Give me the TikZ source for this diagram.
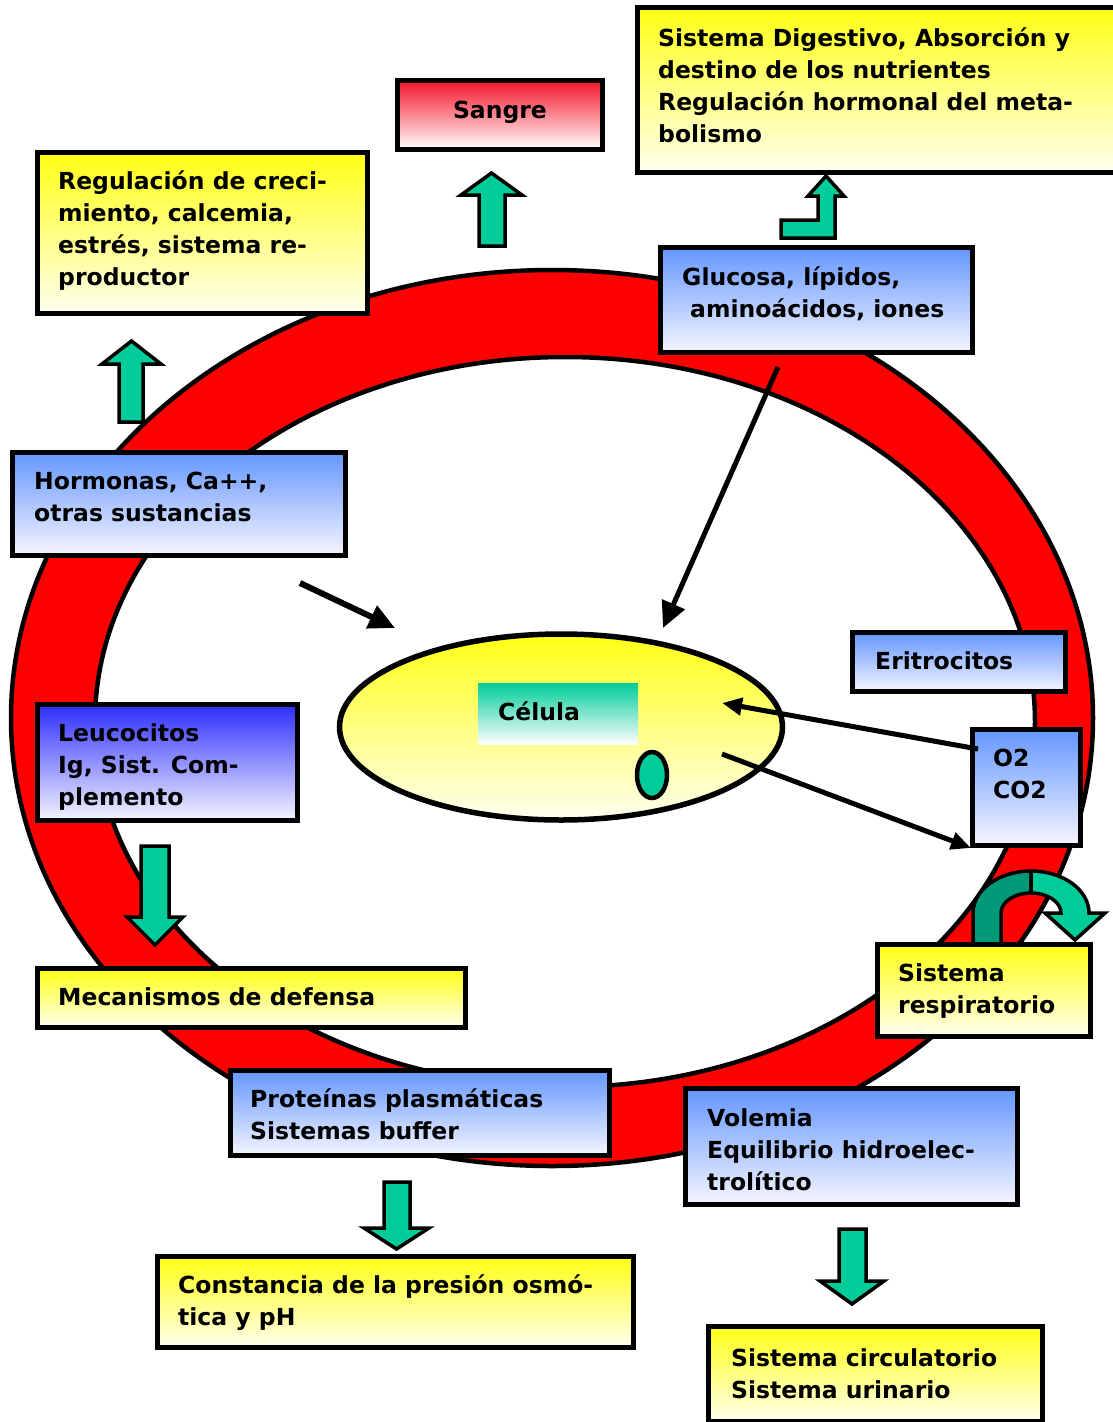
\documentclass[tikz,border=0pt]{standalone}
\usepackage{fontspec}
\setmainfont{DejaVu Sans}
\usetikzlibrary{arrows.meta,shapes.geometric}
\definecolor{ga}{RGB}{0,204,153}
\definecolor{gd}{RGB}{0,153,119}
\definecolor{ytop}{RGB}{255,255,20}
\definecolor{ybot}{RGB}{255,255,240}
\definecolor{btop}{RGB}{100,150,255}
\definecolor{bbot}{RGB}{246,246,255}
\definecolor{dbtop}{RGB}{45,45,255}
\definecolor{stop}{RGB}{245,20,40}
\definecolor{ringred}{RGB}{255,0,0}
\newcommand\lblf{\fontsize{23.5}{32}\selectfont\bfseries}
\tikzset{
  box/.style={draw=black, line width=5pt, rectangle, inner sep=0pt},
  ybox/.style={box, top color=ytop, bottom color=ybot},
  bbox/.style={box, top color=btop, bottom color=bbot},
  txt/.style={font=\lblf, align=left, inner sep=0pt, anchor=base west},
  garrow/.style={fill=ga, draw=black, line width=3.5pt, line join=miter},
  karrow/.style={draw=black, line width=5pt, -{Triangle[length=26pt,width=24pt]}},
  sarrow/.style={draw=black, line width=5pt, -{Triangle[length=20pt,width=17pt]}},
}
\begin{document}
\begin{tikzpicture}[x=1pt,y=-1pt]
\useasboundingbox (0,0) rectangle (1113,1422);
\fill[white] (0,0) rectangle (1113,1422);
% ring
\path[draw=black, line width=4.5pt, fill=ringred, even odd rule]
  (552,718) ellipse [x radius=541, y radius=448]
  (565,722) ellipse [x radius=470, y radius=365];
% cell
\node[draw=black, line width=5.5pt, ellipse, top color=ytop, bottom color=ybot,
  minimum width=443pt, minimum height=186pt, inner sep=0pt] (cell) at (561,727) {};
\node[rectangle, inner sep=0pt, minimum width=160pt, minimum height=61pt,
  top color=ga, bottom color=white] (celbox) at (558,713.5) {};
\node[txt] (celtxt) at (498,720) {Célula};
\node[draw=black, line width=4.5pt, ellipse, fill=ga, inner sep=0pt,
  minimum width=30pt, minimum height=46pt] (nuc) at (652,775) {};
% green block arrows
\path[garrow] (119,422) -- (119,364) -- (102,364) -- (131.5,341) -- (161,364) -- (143,364) -- (143,422) -- cycle;
\path[garrow] (479,246) -- (479,195) -- (461,195) -- (491.5,173) -- (522,195) -- (505,195) -- (505,246) -- cycle;
\path[garrow] (781,238) -- (835,238) -- (835,196) -- (844,196) -- (826,176) -- (808,196) -- (818,196) -- (818,220) -- (781,220) -- cycle;
\path[garrow] (141,846) -- (141,917) -- (127,917) -- (155,945) -- (183,917) -- (169,917) -- (169,846) -- cycle;
\path[garrow] (384,1182) -- (384,1228) -- (364,1228) -- (396.5,1249) -- (429,1228) -- (410,1228) -- (410,1182) -- cycle;
\path[garrow] (839,1229) -- (839,1281) -- (820,1281) -- (852,1304) -- (884,1281) -- (866,1281) -- (866,1229) -- cycle;
% curved arrow
\path[garrow, fill=gd] (973,945) -- (973,913) arc[start angle=180, end angle=270, x radius=58, y radius=42]
  -- (1031,893) arc[start angle=270, end angle=180, x radius=30, y radius=20] -- (1001,945) -- cycle;
\path[garrow] (1031,871) arc[start angle=270, end angle=360, x radius=58, y radius=42]
  -- (1105,913) -- (1075,940) -- (1045,913) -- (1061,913)
  arc[start angle=360, end angle=270, x radius=30, y radius=20] -- cycle;
% boxes
\node[box, top color=stop, bottom color=white, minimum width=205pt, minimum height=69pt] (sangre) at (500,115) {};
\node[txt, anchor=base] (sangret) at (500,118) {Sangre};
\node[ybox, minimum width=490pt, minimum height=165pt] (dig) at (882.5,90) {};
\node[txt] (digt) at (658,142) {Sistema Digestivo, Absorción y\\destino de los nutrientes\\Regulación hormonal del meta-\\bolismo};
\node[ybox, minimum width=330pt, minimum height=161pt] (reg) at (202.5,233) {};
\node[txt] (regt) at (58,285) {Regulación de creci-\\miento, calcemia,\\estrés, sistema re-\\productor};
\node[bbox, minimum width=312pt, minimum height=105pt] (glu) at (816.5,300) {};
\node[txt] (glut) at (682,317) {Glucosa, lípidos,\\\hspace*{8pt}aminoácidos, iones};
\node[bbox, minimum width=333pt, minimum height=103pt] (hor) at (179,504) {};
\node[txt] (hort) at (34,521) {Hormonas, Ca++,\\otras sustancias};
\node[bbox, minimum width=213pt, minimum height=59pt] (eri) at (959,662) {};
\node[txt] (erit) at (875,669) {Eritrocitos};
\node[bbox, minimum width=108pt, minimum height=116pt] (oxy) at (1026.5,787.5) {};
\node[txt] (oxyt) at (993,798) {O2\\CO2};
\node[box, top color=dbtop, bottom color=bbot, minimum width=260pt, minimum height=116pt] (leu) at (167.5,762.5) {};
\node[txt] (leut) at (58,805) {Leucocitos\\Ig, Sist. Com-\\plemento};
\node[ybox, minimum width=213pt, minimum height=92pt] (res) at (984,990.5) {};
\node[txt] (rest) at (898,1013) {Sistema\\respiratorio};
\node[ybox, minimum width=428pt, minimum height=59pt] (mec) at (251.5,998) {};
\node[txt] (mect) at (58,1005) {Mecanismos de defensa};
\node[bbox, minimum width=379pt, minimum height=85pt] (pro) at (420,1113) {};
\node[txt] (prot) at (250,1139) {Proteínas plasmáticas\\Sistemas buffer};
\node[bbox, minimum width=332pt, minimum height=116pt] (vol) at (851.5,1146.5) {};
\node[txt] (volt) at (707,1190) {Volemia\\Equilibrio hidroelec-\\trolítico};
\node[ybox, minimum width=476pt, minimum height=91pt] (con) at (395.5,1302) {};
\node[txt] (cont) at (178,1325) {Constancia de la presión osmó-\\tica y pH};
\node[ybox, minimum width=334pt, minimum height=95pt] (cir) at (875.5,1374) {};
\node[txt] (cirt) at (731,1398) {Sistema circulatorio\\Sistema urinario};
% black arrows
\coordinate (h1) at (300,583); \coordinate (h2) at (395,628);
\coordinate (g1) at (778,367); \coordinate (g2) at (663,628);
\coordinate (o1) at (978,749); \coordinate (o2) at (722,703);
\coordinate (c1) at (722,754); \coordinate (c2) at (971,848);
\draw[karrow, line width=6pt] (h1) -- (h2);
\draw[karrow] (g1) -- (g2);
\draw[sarrow] (o1) -- (o2);
\draw[sarrow] (c1) -- (c2);
\end{tikzpicture}
\end{document}
